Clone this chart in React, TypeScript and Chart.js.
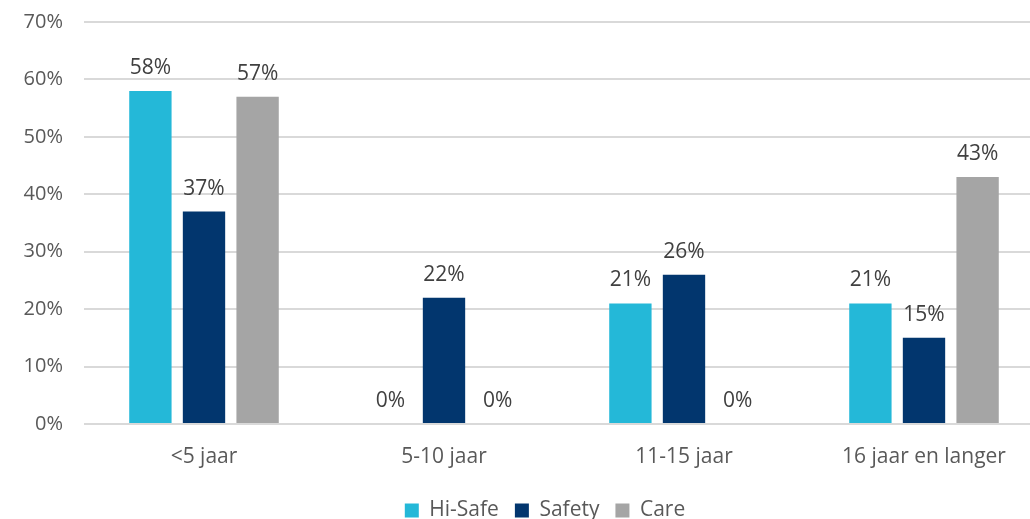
import React, { useEffect, useRef } from "react";
import { Chart, registerables } from "chart.js";

Chart.register(...registerables);

const categories = ["<5 jaar", "5-10 jaar", "11-15 jaar", "16 jaar en langer"];
const hiSafe = [58, 0, 21, 21];
const safety = [37, 22, 26, 15];
const care = [57, 0, 0, 43];
const yTicks = [0, 10, 20, 30, 40, 50, 60, 70];

const FONT = "'Open Sans', sans-serif";

const valueLabels = {
  id: "valueLabels",
  afterDatasetsDraw(chart: any) {
    const ctx = chart.ctx;
    ctx.save();
    ctx.font = `21px ${FONT}`;
    ctx.fillStyle = "#404040";
    ctx.textAlign = "center";
    ctx.textBaseline = "alphabetic";
    chart.data.datasets.forEach((ds: any, i: number) => {
      const meta = chart.getDatasetMeta(i);
      meta.data.forEach((bar: any, j: number) => {
        ctx.fillText(`${ds.data[j]}%`, bar.x, bar.y - 17);
      });
    });
    ctx.restore();
  },
};

const legendShift = {
  id: "legendShift",
  afterLayout(chart: any) {
    const lg = chart.legend;
    if (!lg) return;
    const dx = 23;
    lg.left += dx;
    lg.right += dx;
    const dy = 484 - lg.top;
    lg.top += dy;
    lg.bottom += dy;
  },
};

export default function App() {
  const ref = useRef<HTMLCanvasElement>(null);
  useEffect(() => {
    const chart = new Chart(ref.current!, {
      type: "bar",
      data: {
        labels: categories,
        datasets: [
          { label: "Hi-Safe", data: hiSafe, backgroundColor: "#24B8D8" },
          { label: "Safety", data: safety, backgroundColor: "#02366E" },
          { label: "Care", data: care, backgroundColor: "#A5A5A5" },
        ],
      },
      options: {
        animation: false,
        responsive: false,
        maintainAspectRatio: false,
        layout: { padding: { top: 22, right: 0, left: 0, bottom: 0 } },
        datasets: { bar: { barPercentage: 0.79, categoryPercentage: 0.67 } },
        plugins: {
          tooltip: { enabled: false },
          legend: {
            position: "bottom",
            labels: {
              boxWidth: 14,
              boxHeight: 14,
              color: "#595959",
              font: { family: FONT, size: 21 },
              padding: 16,
            },
          },
        },
        scales: {
          x: {
            afterFit(s: any) { s.height = 48; s.paddingLeft = 0; s.paddingRight = 0; },
            grid: { display: false, drawTicks: false },
            border: { display: false },
            ticks: { color: "#595959", font: { family: FONT, size: 21 }, padding: 20 },
          },
          y: {
            min: 0,
            max: 70,
            afterFit(s: any) { s.width = 84; s.paddingTop = 0; s.paddingBottom = 0; },
            afterBuildTicks(s: any) { s.ticks = yTicks.map((v) => ({ value: v })); },
            grid: { color: "#D9D9D9", lineWidth: 2, drawTicks: false },
            border: { display: false },
            ticks: {
              color: "#595959",
              font: { family: FONT, size: 20 },
              padding: 21,
              callback: (v: any) => `${v}%`,
            },
          },
        },
      },
      plugins: [valueLabels, legendShift],
    });
    return () => chart.destroy();
  }, []);
  return (
    <div style={{ position: "fixed", left: 0, top: 0, width: 1030, height: 519, overflow: "hidden", background: "#fff" }}>
      <canvas ref={ref} width={1044} height={519} />
    </div>
  );
}
